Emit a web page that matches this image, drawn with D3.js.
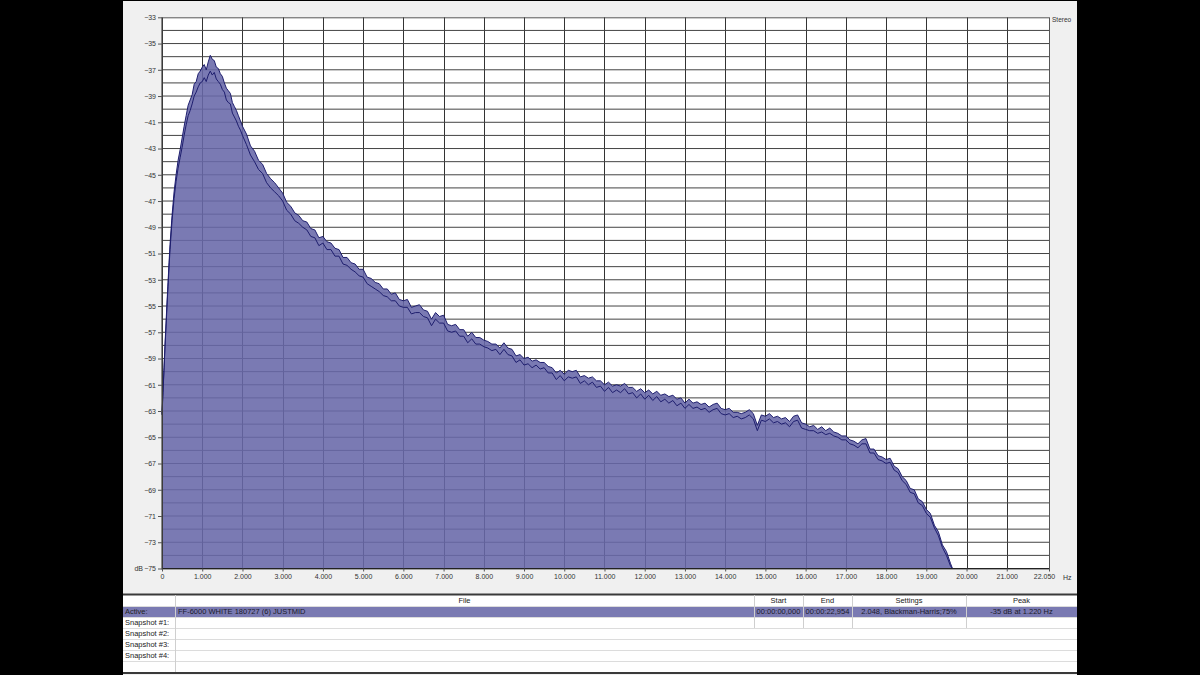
<!DOCTYPE html>
<html>
<head>
<meta charset="utf-8">
<script src="https://cdn.jsdelivr.net/npm/d3@7"></script>
<style>
  html, body { margin: 0; padding: 0; background: #000; }
  svg { display: block; }
  text { font-family: "Liberation Sans", "DejaVu Sans", sans-serif; }
</style>
</head>
<body>
<script>
// frequency bins (Hz): dense at the low end, then 100 Hz steps, then the flat tail
var lowHz = [0,25,50,75,100,125,150,175,200,250,300,350,400,450,500,550,600,650,700,750,800,850,900,950,
  1000,1050,1100,1150,1200,1250,1300,1350,1400,1450,1500,1550,1600,1650,1700,1750,1800,1850,1900,1950];
var midHz = d3.range(2000, 19601, 100);
var tailHz = [19650, 22050];

// channel 1 (upper trace), dB
var ch1Low = [-63.2,-61.4,-59.7,-57.9,-56.3,-54.7,-53.2,-51.7,-50.3,-48.1,-46.3,-45.0,-43.9,-43.1,-42.2,-41.3,-40.5,-39.7,-39.3,-38.9,-38.1,-37.9,-37.3,-37.1,
  -36.8,-36.6,-37.0,-36.4,-35.9,-36.2,-36.3,-36.8,-36.9,-37.3,-37.5,-38.0,-38.4,-38.6,-38.8,-39.5,-39.8,-40.1,-40.5,-40.9];
var ch1Mid = [
  -41.3,-41.9,-42.8,-43.2,-43.9,-44.2,-44.9,-45.3,-45.6,-46.0,
  -46.4,-47.1,-47.4,-47.9,-48.1,-48.5,-48.6,-49.1,-49.2,-49.8,
  -49.7,-50.1,-50.2,-50.6,-50.7,-51.3,-51.3,-51.7,-51.8,-52.2,
  -52.2,-52.8,-52.9,-53.2,-53.3,-53.7,-53.7,-54.1,-54.0,-54.5,
  -54.6,-54.5,-55.1,-55.0,-54.9,-55.3,-55.4,-56.0,-55.5,-55.8,
  -55.7,-56.4,-56.5,-56.4,-56.8,-56.8,-57.3,-57.0,-57.4,-57.4,
  -57.6,-57.7,-57.9,-57.9,-58.2,-57.8,-58.2,-58.3,-58.8,-58.7,
  -59.0,-58.9,-59.2,-59.1,-59.3,-59.3,-59.6,-59.7,-60.1,-59.9,
  -60.2,-59.9,-60.0,-59.9,-60.4,-60.3,-60.5,-60.4,-60.7,-60.7,
  -61.0,-60.8,-61.1,-61.0,-61.1,-60.9,-61.2,-61.2,-61.5,-61.3,
  -61.6,-61.4,-61.7,-61.5,-61.8,-61.7,-61.9,-61.8,-62.1,-62.0,
  -62.4,-62.1,-62.4,-62.3,-62.5,-62.4,-62.7,-62.5,-62.4,-62.8,
  -62.9,-62.8,-63.1,-63.1,-63.2,-63.1,-62.9,-63.2,-64.1,-63.3,
  -63.4,-63.2,-63.5,-63.4,-63.6,-63.5,-63.8,-63.4,-63.3,-63.9,
  -64.0,-64.2,-64.1,-64.4,-64.2,-64.5,-64.3,-64.6,-64.7,-64.9,
  -64.9,-65.2,-65.3,-65.5,-65.2,-65.1,-65.9,-65.9,-66.4,-66.5,
  -66.7,-66.6,-67.2,-67.4,-68.0,-68.3,-68.9,-69.0,-69.7,-69.9,
  -70.5,-70.8,-71.7,-72.2,-73.2,-73.7,-74.6];
var ch1Tail = [-75, -75];

// channel 2 (lower trace), dB
var ch2Low = [-63.3,-61.6,-59.9,-58.1,-56.6,-55.0,-53.5,-52.0,-50.7,-48.5,-46.8,-45.5,-44.5,-43.7,-42.9,-42.0,-41.2,-40.5,-40.1,-39.6,-39.0,-38.7,-38.3,-38.0,
  -37.9,-37.6,-37.9,-37.4,-37.1,-37.4,-37.2,-37.7,-37.9,-38.1,-38.5,-38.7,-39.3,-39.5,-39.6,-40.3,-40.6,-40.9,-41.3,-41.6];
var ch2Mid = [
  -42.0,-42.7,-43.5,-44.0,-44.6,-44.9,-45.6,-46.0,-46.3,-46.6,
  -47.0,-47.7,-48.0,-48.5,-48.7,-49.0,-49.2,-49.7,-49.8,-50.4,
  -50.2,-50.7,-50.7,-51.2,-51.2,-51.8,-51.9,-52.2,-52.4,-52.7,
  -52.8,-53.3,-53.5,-53.7,-53.9,-54.2,-54.3,-54.6,-54.6,-55.0,
  -55.1,-55.1,-55.6,-55.5,-55.5,-55.8,-55.9,-56.5,-56.0,-56.3,
  -56.3,-56.9,-57.0,-56.9,-57.3,-57.3,-57.8,-57.5,-57.9,-57.9,
  -58.1,-58.2,-58.4,-58.3,-58.7,-58.3,-58.7,-58.8,-59.3,-59.1,
  -59.5,-59.4,-59.7,-59.5,-59.8,-59.7,-60.1,-60.1,-60.6,-60.3,
  -60.7,-60.4,-60.5,-60.4,-60.9,-60.7,-61.0,-60.8,-61.2,-61.1,
  -61.5,-61.2,-61.6,-61.4,-61.6,-61.3,-61.7,-61.6,-62.0,-61.7,
  -62.1,-61.8,-62.2,-61.9,-62.3,-62.1,-62.4,-62.2,-62.6,-62.4,
  -62.8,-62.5,-62.8,-62.7,-62.9,-62.8,-63.1,-62.9,-62.8,-63.2,
  -63.3,-63.2,-63.5,-63.4,-63.6,-63.5,-63.3,-63.6,-64.5,-63.7,
  -63.8,-63.6,-63.9,-63.8,-64.0,-63.9,-64.2,-63.8,-63.7,-64.3,
  -64.4,-64.5,-64.5,-64.7,-64.6,-64.8,-64.7,-64.9,-65.0,-65.2,
  -65.2,-65.5,-65.6,-65.8,-65.5,-65.5,-66.2,-66.2,-66.7,-66.8,
  -67.0,-66.9,-67.5,-67.7,-68.3,-68.6,-69.2,-69.3,-70.0,-70.2,
  -70.8,-71.1,-71.9,-72.5,-73.4,-74.0,-74.8];
var ch2Tail = [-75, -75];

var hzTicks = d3.range(0, 22000, 1000).concat([22050]);
var dbLabels = d3.range(-33, -76, -2);

var rowLabels = ["Active:", "Snapshot #1:", "Snapshot #2:", "Snapshot #3:", "Snapshot #4:", ""];
var columns = ["File", "Start", "End", "Settings", "Peak"];
var activeRow = ["FF-6000 WHITE 180727 (6) JUSTMID", "00:00:00,000", "00:00:22,954", "2.048, Blackman-Harris;75%", "-35 dB at 1.220 Hz"];

var hz = lowHz.concat(midHz, tailHz);
var ch1 = ch1Low.concat(ch1Mid, ch1Tail);
var ch2 = ch2Low.concat(ch2Mid, ch2Tail);
if (hz.length !== ch1.length || hz.length !== ch2.length) console.warn("length mismatch", hz.length, ch1.length, ch2.length);

var W = 1200, H = 675;
var svg = d3.select("body").append("svg").attr("width", W).attr("height", H);

// window panel
svg.append("rect").attr("x", 123).attr("y", 1).attr("width", 954).attr("height", 674).attr("fill", "#f0f0f0");

var x = d3.scaleLinear().domain([0, 22050]).range([162, 1049]);
var y = d3.scaleLinear().domain([-33, -75]).range([17.3, 568.5]);

svg.append("rect").attr("x", x(0)).attr("y", y(-33)).attr("width", x(22050) - x(0)).attr("height", y(-75) - y(-33)).attr("fill", "#fff");

// grid
var grid = svg.append("g").attr("stroke", "#333").attr("stroke-width", 1);
grid.selectAll(".gx").data(d3.range(1000, 22000, 1000)).enter().append("line")
  .attr("x1", function(d){ return Math.round(x(d)) + 0.5; }).attr("x2", function(d){ return Math.round(x(d)) + 0.5; })
  .attr("y1", y(-33)).attr("y2", y(-75));
grid.selectAll(".gy").data(d3.range(-34, -75, -1)).enter().append("line")
  .attr("x1", x(0)).attr("x2", x(22050))
  .attr("y1", function(d){ return y(d); }).attr("y2", function(d){ return y(d); })
  .attr("stroke", "#444");

var pts1 = hz.map(function(f, i){ return [f, ch1[i]]; });
var pts2 = hz.map(function(f, i){ return [f, ch2[i]]; });

var area = d3.area().x(function(d){ return x(d[0]); }).y0(y(-75)).y1(function(d){ return y(d[1]); });
var line = d3.line().x(function(d){ return x(d[0]); }).y(function(d){ return y(d[1]); });

svg.append("path").datum(pts1).attr("d", area).attr("fill", "rgb(104,104,168)").attr("fill-opacity", 0.88);
svg.append("path").datum(pts2).attr("d", line).attr("fill", "none").attr("stroke", "#1e1e6e").attr("stroke-width", 1);
svg.append("path").datum(pts1).attr("d", line).attr("fill", "none").attr("stroke", "#1e1e6e").attr("stroke-width", 1);

// frame
svg.append("rect").attr("x", x(0) + 0.5).attr("y", y(-33) + 0.5).attr("width", x(22050) - x(0)).attr("height", y(-75) - y(-33))
  .attr("fill", "none").attr("stroke", "#555");
svg.append("line").attr("x1", x(0)).attr("x2", x(0)).attr("y1", y(-33)).attr("y2", y(-75) + 1).attr("stroke", "#222");
svg.append("line").attr("x1", x(0)).attr("x2", x(22050)).attr("y1", y(-75)).attr("y2", y(-75)).attr("stroke", "#222");

// axes
var fmtHz = function(d){ return d === 0 ? "0" : d3.format(",")(d).replace(",", "."); };
var xAxis = svg.append("g").attr("transform", "translate(0," + y(-75) + ")")
  .call(d3.axisBottom(x).tickValues(hzTicks).tickFormat(fmtHz).tickSize(3).tickPadding(3));
var yAxis = svg.append("g").attr("transform", "translate(" + x(0) + ",0)")
  .call(d3.axisLeft(y).tickValues(dbLabels).tickFormat(d3.format("d")).tickSize(4).tickPadding(2));
[xAxis, yAxis].forEach(function(a){
  a.select(".domain").remove();
  a.selectAll("line").attr("stroke", "#555");
  a.selectAll("text").attr("fill", "#333").style("font-size", "7px").style("font-family", "Liberation Sans, sans-serif");
});
xAxis.selectAll(".tick").filter(function(d){ return d === 22050; }).select("text").attr("dx", "-5");
svg.append("text").attr("x", 1063).attr("y", y(-75) + 11).attr("fill", "#333").style("font-size", "7px").text("Hz");
svg.append("text").attr("x", 143).attr("y", y(-75) + 2.5).attr("text-anchor", "end").attr("fill", "#333").style("font-size", "7px").text("dB");
svg.append("text").attr("x", 1052).attr("y", 22).attr("fill", "#333").style("font-size", "6.5px").text("Stereo");

// snapshot table
var t = svg.append("g");
var rowTop = 595, rowH = 11, colEdges = [123, 175, 754, 803, 852, 966, 1077];
t.append("rect").attr("x", 123).attr("y", rowTop).attr("width", 954).attr("height", 77).attr("fill", "#fff");
t.append("rect").attr("x", 123).attr("y", rowTop + rowH).attr("width", 954).attr("height", rowH).attr("fill", "rgb(122,122,178)");
t.append("line").attr("x1", 123).attr("x2", 1077).attr("y1", rowTop - 0.5).attr("y2", rowTop - 0.5).attr("stroke", "#3a3a3a").attr("stroke-width", 2);
t.selectAll(".rl").data(d3.range(1, 7)).enter().append("line")
  .attr("x1", 123).attr("x2", 1077)
  .attr("y1", function(d){ return rowTop + d * rowH + 0.5; }).attr("y2", function(d){ return rowTop + d * rowH + 0.5; })
  .attr("stroke", "#dcdcdc");
t.append("line").attr("x1", 123).attr("x2", 1077).attr("y1", rowTop + 7 * rowH + 1).attr("y2", rowTop + 7 * rowH + 1).attr("stroke", "#3a3a3a").attr("stroke-width", 2);
t.selectAll(".cl").data(colEdges.slice(1, -1)).enter().append("line")
  .attr("x1", function(d){ return d + 0.5; }).attr("x2", function(d){ return d + 0.5; })
  .attr("y1", rowTop).attr("y2", function(d, i){ return i === 0 ? rowTop + 7 * rowH : rowTop + 3 * rowH; })
  .attr("stroke", "#cfcfcf");

t.selectAll(".ch").data(columns).enter().append("text")
  .attr("x", function(d, i){ return (colEdges[i + 1] + colEdges[i + 2]) / 2; })
  .attr("y", rowTop + 8).attr("text-anchor", "middle").attr("fill", "#222").style("font-size", "7.5px").text(function(d){ return d; });
t.selectAll(".rlab").data(rowLabels).enter().append("text")
  .attr("x", 125).attr("y", function(d, i){ return rowTop + (i + 1) * rowH + 8; })
  .attr("fill", "#222").style("font-size", "7.5px").text(function(d){ return d; });
t.selectAll(".av").data(activeRow).enter().append("text")
  .attr("x", function(d, i){ return i === 0 ? 178 : (colEdges[i + 1] + colEdges[i + 2]) / 2; })
  .attr("y", rowTop + rowH + 8)
  .attr("text-anchor", function(d, i){ return i === 0 ? "start" : "middle"; })
  .attr("fill", "#1a1a2a").style("font-size", "7.5px").text(function(d){ return d; });
</script>
</body>
</html>
